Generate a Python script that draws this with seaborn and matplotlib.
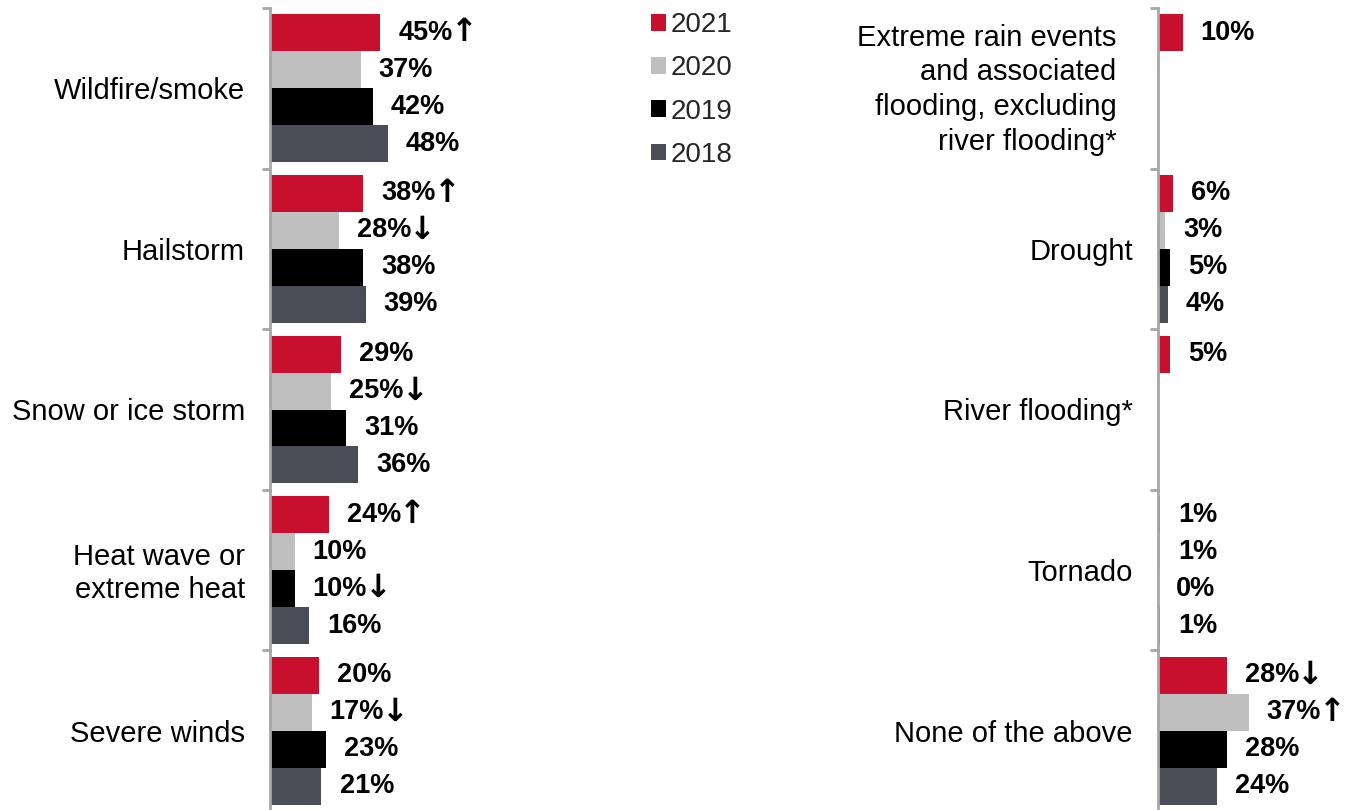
import numpy as np
import pandas as pd
import matplotlib
matplotlib.use("Agg")
import matplotlib.pyplot as plt
from matplotlib.patches import Patch
from matplotlib.transforms import ScaledTranslation
import seaborn as sns

years = ["2021", "2020", "2019", "2018"]
colors = ["#C8102E", "#BFBFBF", "#000000", "#4A4D55"]

left_cats = ["Wildfire/smoke", "Hailstorm", "Snow or ice storm",
             "Heat wave or\nextreme heat", "Severe winds"]
left_vals = {
    "2021": [45, 38, 29, 24, 20],
    "2020": [37, 28, 25, 10, 17],
    "2019": [42, 38, 31, 10, 23],
    "2018": [48, 39, 36, 16, 21],
}
left_arrows = {
    "2021": ["↑", "↑", "", "↑", ""],
    "2020": ["", "↓", "↓", "", "↓"],
    "2019": ["", "", "", "↓", ""],
    "2018": ["", "", "", "", ""],
}

right_cats = ["Extreme rain events  \nand associated  \nflooding, excluding  \nriver flooding*  ",
              "Drought", "River flooding*", "Tornado", "None of the above"]
right_vals = {
    "2021": [10, 6, 5, 1, 28],
    "2020": [np.nan, 3, np.nan, 1, 37],
    "2019": [np.nan, 5, np.nan, 0, 28],
    "2018": [np.nan, 4, np.nan, 1, 24],
}
right_arrows = {
    "2021": ["", "", "", "", "↓"],
    "2020": ["", "", "", "", "↑"],
    "2019": ["", "", "", "", ""],
    "2018": ["", "", "", "", ""],
}

sns.set_theme(style="white")
plt.rcParams['font.family'] = ['Liberation Sans', 'DejaVu Sans']

BAR_W = 0.92
AX_COLOR = "#A6A6A6"


def make_frame(cats, vals):
    rows = []
    for y in years:
        for c, v in zip(cats, vals[y]):
            rows.append({"category": c, "year": y, "value": v})
    return pd.DataFrame(rows)


def draw_panel(fig, ax, cats, vals, arrows):
    df = make_frame(cats, vals)
    sns.barplot(data=df, y="category", x="value", hue="year", order=cats,
                hue_order=years, palette=colors, orient="h", width=BAR_W,
                saturation=1, legend=False, ax=ax, linewidth=0)
    ax.set_xlim(0, 50)
    ax.set_ylim(len(cats) - 0.5, -0.5)
    ax.set_xlabel("")
    ax.set_ylabel("")
    ax.set_xticks([])
    for s in ["top", "right", "bottom"]:
        ax.spines[s].set_visible(False)
    ax.spines["left"].set_color(AX_COLOR)
    ax.spines["left"].set_linewidth(2)
    ax.tick_params(axis="y", which="major", length=0, pad=18, labelsize=21,
                   labelcolor="black")
    for lab in ax.get_yticklabels():
        nlines = lab.get_text().count("\n") + 1
        if nlines > 2:
            lab.set_linespacing(1.3)
            lab.set_transform(lab.get_transform() +
                              ScaledTranslation(0, 5 / 100, fig.dpi_scale_trans))
        elif nlines == 2:
            lab.set_linespacing(1.2)
            lab.set_transform(lab.get_transform() +
                              ScaledTranslation(0, 2 / 100, fig.dpi_scale_trans))
    ax.set_yticks(np.arange(len(cats) + 1) - 0.5, minor=True)
    ax.tick_params(axis="y", which="minor", length=6, width=2, color=AX_COLOR,
                   direction="out", left=True)
    ax.grid(False)

    n = len(years)
    for j, y in enumerate(years):
        off = (j - (n - 1) / 2) * BAR_W / n
        for i, v in enumerate(vals[y]):
            if np.isnan(v):
                continue
            t = ax.annotate(f"{int(v)}%", xy=(v, i + off),
                            xytext=(13, 0), textcoords="offset points",
                            ha="left", va="center", fontsize=19.5,
                            fontweight="bold", color="black", annotation_clip=False)
            if arrows[y][i]:
                ax.annotate(arrows[y][i], xy=(1, 0.5), xycoords=t,
                            xytext=(-1.5, 0), textcoords="offset points",
                            ha="left", va="center", fontsize=23,
                            family="DejaVu Sans", fontweight="bold", color="black")


fig = plt.figure(figsize=(13.48, 8.10), dpi=100)
W, H = 1348, 810
ax_w = 50 * 2.45 / W
ax_b = -1 / H
ax_h = (811 - 8) / H
ax_l = fig.add_axes([270 / W, ax_b, ax_w, ax_h])
ax_r = fig.add_axes([1158 / W, ax_b, ax_w, ax_h])

draw_panel(fig, ax_l, left_cats, left_vals, left_arrows)
draw_panel(fig, ax_r, right_cats, right_vals, right_arrows)

handles = [Patch(facecolor=c, edgecolor="none", label=y) for c, y in zip(colors, years)]
fig.legend(handles=handles, loc="upper left", bbox_to_anchor=(640 / W, 1 - 1 / H),
           frameon=False, fontsize=20, handlelength=0.55, handleheight=0.55,
           handletextpad=0.15, labelspacing=0.62, borderaxespad=0)

fig.savefig("out.png", dpi=100)
